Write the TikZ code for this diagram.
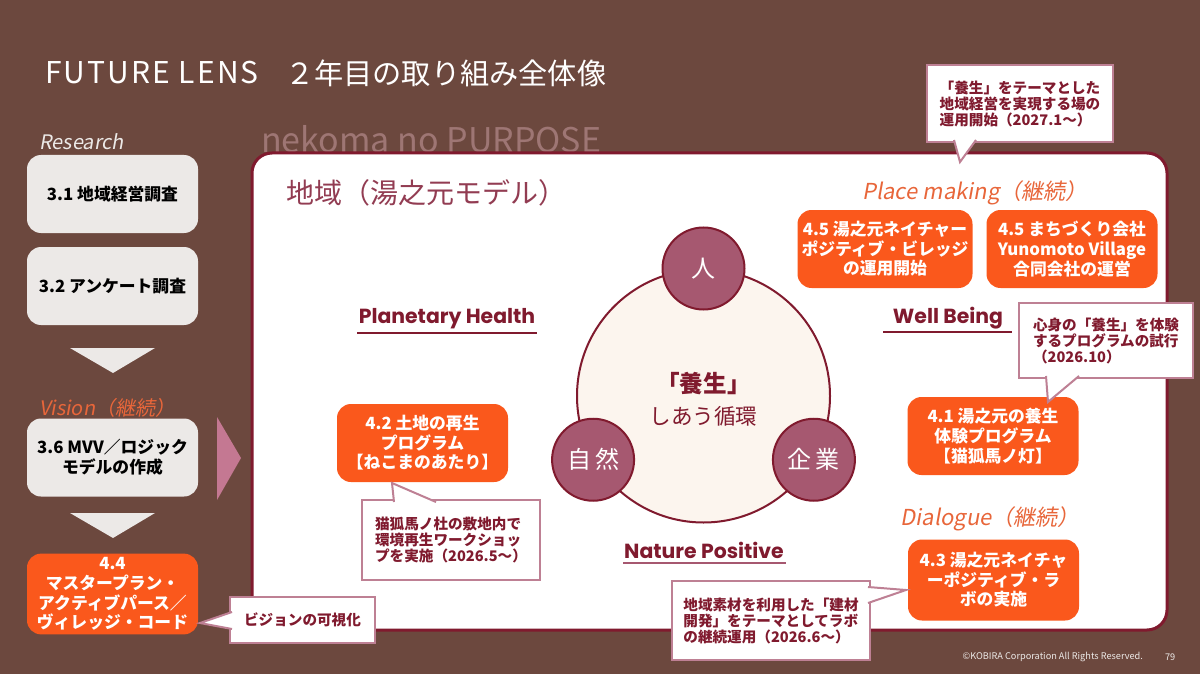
\documentclass[tikz,border=0pt]{standalone}
\usepackage{fontspec}
\setmainfont{Noto Sans CJK JP}
\newfontfamily\slantjp{Noto Sans CJK JP}[FakeSlant=0.18]
\newfontfamily\headsans{Poppins}
\newfontfamily\widesans{Noto Sans CJK JP}[LetterSpace=7]
\usetikzlibrary{positioning}

\definecolor{bgbrown}{RGB}{108,72,62}
\definecolor{wine}{RGB}{128,26,46}
\definecolor{rosewine}{RGB}{146,60,82}
\definecolor{mauve}{RGB}{166,88,112}
\definecolor{cream}{RGB}{252,245,238}
\definecolor{kobira}{RGB}{250,88,28}
\definecolor{phaseorange}{RGB}{232,102,58}
\definecolor{paper}{RGB}{236,233,231}
\definecolor{noteline}{RGB}{190,128,148}
\definecolor{pinkarrow}{RGB}{196,120,146}
\definecolor{ghost}{RGB}{158,118,116}

\tikzset{
  stepbox/.style={rounded corners=7pt, fill=paper, text=black, minimum width=85.5pt,
    minimum height=39pt, align=center, inner sep=2pt,
    font=\bfseries\fontsize{8.4}{9.8}\selectfont},
  actbox/.style={stepbox, fill=kobira, text=white},
  notebox/.style={fill=white, draw=noteline, line width=1pt, text=wine, align=left,
    inner sep=3pt, font=\bfseries\fontsize{7.3}{8}\selectfont},
  notetail/.style={fill=white, draw=noteline, line width=1pt},
  pillar/.style={text=wine, font=\headsans\bfseries\fontsize{10.2}{11}\selectfont},
  phaselabel/.style={text=phaseorange, font=\slantjp\fontsize{11}{12}\selectfont},
  actor/.style={circle, fill=mauve, draw=wine, line width=1pt, minimum size=41pt,
    text=white, font=\fontsize{12}{12}\selectfont},
}

\begin{document}
\begin{tikzpicture}[x=0.5pt,y=-0.5pt]
  \useasboundingbox (0,0) rectangle (1200,674);
  \fill[bgbrown] (0,0) rectangle (1200,674);

  % heading
  \node[anchor=west, text=white, font=\widesans\fontsize{15}{16}\selectfont] (title) at (38,73) {FUTURE LENS};
  \node[anchor=west, text=white, font=\fontsize{14.6}{15}\selectfont] (subtitle) at (278,73) {２年目の取り組み全体像};
  \node[anchor=west, text=paper, font=\slantjp\fontsize{10}{11}\selectfont] (research) at (32,142) {Research};
  \node[anchor=west, text=ghost, font=\fontsize{17}{18}\selectfont] (purpose) at (254,139) {nekoma no PURPOSE};

  % panel
  \draw[wine, line width=1.5pt, fill=white, rounded corners=10pt] (252,153) rectangle (1167,630);
  \node[anchor=west, text=rosewine, font=\fontsize{14}{15}\selectfont] (model) at (279,193) {地域（湯之元モデル）};

  % cycle
  \node[circle, fill=cream, draw=wine, line width=1pt, minimum size=126.5pt] (ring) at (703.5,396) {};
  \node[actor] (hito) at (ring.90) {人};
  \node[actor] (shizen) at (ring.210) {自\hspace{2pt}然};
  \node[actor] (kigyo) at (ring.330) {企\hspace{2pt}業};
  \node[text=wine, font=\bfseries\fontsize{11.8}{12}\selectfont] (yojo) at (703.5,383) {「養生」};
  \node[text=wine, font=\fontsize{10.8}{11}\selectfont, below=-1pt of yojo] (junkan) {しあう循環};

  % pillars
  \node[pillar] (planetary) at (447,319) {Planetary Health};
  \draw[wine, line width=1pt] (357,333) -- (537,333);
  \node[pillar] (wellbeing) at (948,318) {Well Being};
  \draw[wine, line width=1pt] (883,332) -- (1012,332);
  \node[pillar] (nature) at (704,550) {Nature Positive};
  \draw[mauve, line width=1pt] (623,563) -- (786,563);

  % phases
  \node[phaselabel] (placemaking) at (975,193) {Place making（継続）};
  \node[phaselabel] (dialogue) at (990,519) {Dialogue（継続）};

  % actions
  \node[actbox] (village) at (885,249) {4.5 湯之元ネイチャー\\ポジティブ・ビレッジ\\の運用開始};
  \node[actbox] (company) at (1072,249) {4.5 まちづくり会社\\Yunomoto Village\\合同会社の運営};
  \node[actbox] (taiken) at (993,436) {4.1 湯之元の養生\\体験プログラム\\【猫狐馬ノ灯】};
  \node[actbox] (saisei) at (422.5,443) {4.2 土地の再生\\プログラム\\【ねこまのあたり】};
  \node[actbox, minimum height=40.5pt] (labo) at (993.5,580) {4.3 湯之元ネイチャ\\ーポジティブ・ラ\\ボの実施};

  % left column
  \node[stepbox] (chosa) at (112.5,194) {3.1 地域経営調査};
  \node[stepbox] (anketo) at (112.5,286) {3.2 アンケート調査};
  \fill[paper] (70,348) -- (155,348) -- (113,373) -- cycle;
  \node[anchor=west, text=phaseorange, font=\slantjp\fontsize{10}{11}\selectfont] (vision) at (32,408) {Vision（継続）};
  \node[stepbox] (mvv) at (112.5,457.5) {3.6 MVV／ロジック\\モデルの作成};
  \fill[paper] (70,513) -- (155,513) -- (113,538) -- cycle;
  \node[actbox] (master) at (112.5,594) {4.4\\マスタープラン・\\アクティブパース／\\ヴィレッジ・コード};
  \fill[pinkarrow] (217,417) -- (241,458) -- (217,500) -- cycle;

  % callouts
  \node[notebox, minimum width=93pt, minimum height=38.5pt] (noteOpen) at (1020,103.5)
    {「養生」をテーマとした\\地域経営を実現する場の\\運用開始（2027.1～）};
  \coordinate (tipOpen) at (960,162);
  \filldraw[notetail] ([shift={(28,-3)}]noteOpen.south west) -- (tipOpen) -- ([shift={(50,-3)}]noteOpen.south west);

  \node[notebox, minimum width=87pt, minimum height=37.5pt] (noteTrial) at (1106,340.5)
    {心身の「養生」を体験\\するプログラムの試行\\（2026.10）};
  \coordinate (tipTrial) at (1048,402);
  \filldraw[notetail] ([shift={(28,-3)}]noteTrial.south west) -- (tipTrial) -- ([shift={(61,-3)}]noteTrial.south west);

  \node[notebox, minimum width=89pt, minimum height=40pt] (noteWork) at (451,540)
    {猫狐馬ノ杜の敷地内で\\環境再生ワークショッ\\プを実施（2026.5～）};
  \coordinate (tipWork) at (392,483);
  \filldraw[notetail] ([shift={(33,3)}]noteWork.north west) -- (tipWork) -- ([shift={(75,3)}]noteWork.north west);

  \node[notebox, minimum width=99pt, minimum height=39.5pt] (noteLab) at (771,620.5)
    {地域素材を利用した「建材\\開発」をテーマとしてラボ\\の継続運用（2026.6～）};
  \coordinate (tipLab) at (906,590);
  \filldraw[notetail] ([shift={(-3,7)}]noteLab.north east) -- (tipLab) -- ([shift={(-3,23)}]noteLab.north east);

  \node[notebox, minimum width=72.5pt, minimum height=23pt, align=center] (noteVision) at (302.5,620) {ビジョンの可視化};
  \coordinate (tipVision) at (200,623);
  \filldraw[notetail] ([shift={(3,16)}]noteVision.north west) -- (tipVision) -- ([shift={(3,33)}]noteVision.north west);

  % footer
  \node[anchor=east, text=paper, font=\fontsize{4.6}{5}\selectfont] (copyright) at (1150,657)
    {©KOBIRA Corporation All Rights Reserved.};
  \node[text=paper, font=\fontsize{4.6}{5}\selectfont, right=4pt of copyright] (pageno) {79};
\end{tikzpicture}
\end{document}
